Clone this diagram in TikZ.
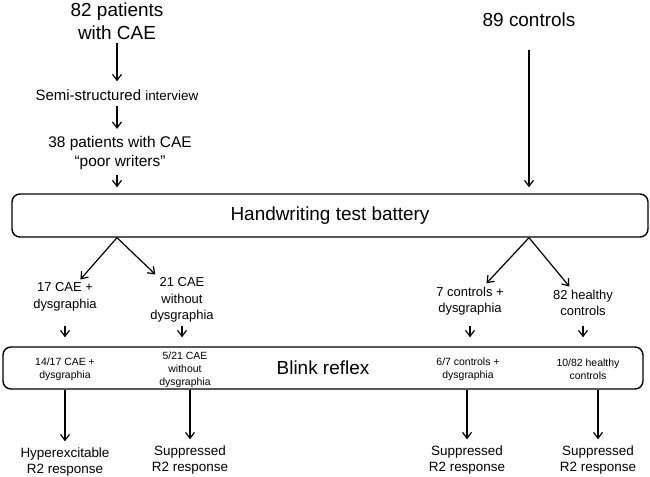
\documentclass[tikz,border=0pt]{standalone}
\usepackage{fontspec}
\setmainfont{Liberation Sans}
\usetikzlibrary{arrows.meta,positioning,calc}

\begin{document}
\begin{tikzpicture}[x=1bp, y=-1bp,
    flow/.style={-{Straight Barb[length=6bp,width=9bp]}, line width=1.2bp},
    stage/.style={draw, rounded corners=8bp, line width=1.4bp, inner sep=0pt,
        font=\fontsize{19}{23}\selectfont},
    big/.style={align=center, inner sep=1bp, font=\fontsize{19}{23}\selectfont},
    mid/.style={align=center, inner sep=1bp, font=\fontsize{15.5}{19.5}\selectfont},
    group/.style={align=center, inner sep=1bp, font=\fontsize{13}{16.5}\selectfont},
    rate/.style={align=center, inner sep=1bp, font=\fontsize{10.5}{13}\selectfont},
    result/.style={align=center, inner sep=1bp, font=\fontsize{13.5}{16.5}\selectfont}]
    \useasboundingbox (0,0) rectangle (650,477);

    % recruitment
    \node[big] (cae82) at (117,21) {82 patients\\with CAE};
    \node[inner sep=1bp, font=\fontsize{15}{18}\selectfont] (semi) at (117,95)
        {Semi-structured {\fontsize{13.5}{16}\selectfont interview}};
    \node[mid] (poor) at (120,153) {38 patients with CAE\\“poor writers”};
    \node[big] (ctrl89) at (529,20) {89 controls};

    \node[stage, minimum width=636bp, minimum height=43bp] (hw) at (330,215.5) {Handwriting test battery};

    \draw[flow, shorten <=2bp, shorten >=7bp] (cae82) -- (semi);
    \draw[flow, shorten <=4bp, shorten >=6bp] (semi) -- (semi |- poor.north);
    \draw[flow, shorten <=4bp, shorten >=6bp] (poor.south -| semi) -- (semi |- hw.north);
    \draw[flow, shorten <=22bp, shorten >=6bp] (ctrl89) -- (ctrl89 |- hw.north);

    % groups
    \node[group] (cae17) at (65,297) {17 CAE +\\dysgraphia};
    \node[group] (cae21) at (182,300) {21 CAE\\without\\dysgraphia};
    \node[group] (ctl7) at (470,301) {7 controls +\\dysgraphia};
    \node[group] (hc82) at (583,303) {82 healthy\\controls};

    \coordinate (hwl) at (hw.south -| semi);
    \coordinate (hwr) at (hw.south -| ctrl89);
    \draw[flow, shorten >=3bp] (hwl) -- (cae17);
    \draw[flow, shorten >=3bp] (hwl) -- (cae21);
    \draw[flow, shorten >=3bp] (hwr) -- (ctl7);
    \draw[flow, shorten >=3bp] (hwr) -- (hc82);

    % blink reflex
    \node[stage, minimum width=640bp, minimum height=42bp] (blink) at (323,368) {Blink reflex};
    \node[rate] (r14) at (65,369) {14/17 CAE +\\dysgraphia};
    \node[rate] (r5) at (185,370) {5/21 CAE\\without\\dysgraphia};
    \node[rate] (r6) at (468,369) {6/7 controls +\\dysgraphia};
    \node[rate] (r10) at (588,369) {10/82 healthy\\controls};

    \foreach \g in {cae17,cae21,ctl7,hc82}
        \draw[flow] ([yshift=20bp]\g |- blink.north) -- ([yshift=9bp]\g |- blink.north);

    % outcomes
    \node[result] (hyper) at (65,462) {Hyperexcitable\\R2 response};
    \node[result] (sup21) at (190,460) {Suppressed\\R2 response};
    \node[result] (sup7) at (467,460) {Suppressed\\R2 response};
    \node[result] (sup82) at (598,460) {Suppressed\\R2 response};

    \foreach \o in {hyper,sup21,sup7,sup82}
        \draw[flow, shorten >=5bp] (blink.south -| \o) -- (\o);
\end{tikzpicture}
\end{document}
